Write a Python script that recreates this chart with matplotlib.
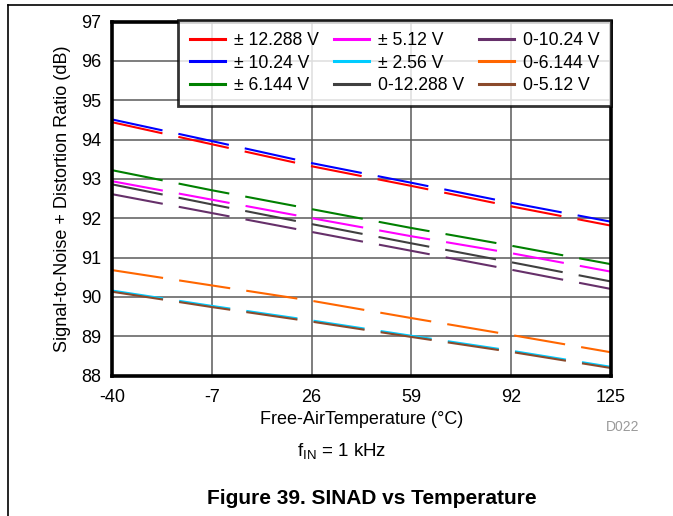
import matplotlib
matplotlib.use("Agg")
import matplotlib.pyplot as plt
from matplotlib.lines import Line2D

plt.rcParams['font.family'] = ['Liberation Sans', 'DejaVu Sans']
plt.rcParams['axes.unicode_minus'] = False

# temperatures (degC) where values were read
temps = [-40, -7, 26, 59, 92, 125]

# SINAD (dB) per input range
sinad_pm12288 = [94.44, 93.88, 93.32, 92.82, 92.30, 91.81]
sinad_pm1024 = [94.51, 93.96, 93.40, 92.90, 92.39, 91.91]
sinad_pm6144 = [93.22, 92.71, 92.23, 91.75, 91.30, 90.83]
sinad_pm512 = [92.94, 92.47, 92.00, 91.54, 91.11, 90.64]
sinad_pm256 = [90.16, 89.77, 89.40, 89.01, 88.63, 88.22]
sinad_0_12288 = [92.86, 92.35, 91.85, 91.36, 90.88, 90.39]
sinad_0_1024 = [92.61, 92.13, 91.65, 91.17, 90.69, 90.20]
sinad_0_6144 = [90.68, 90.29, 89.90, 89.46, 89.03, 88.59]
sinad_0_512 = [90.13, 89.74, 89.37, 88.98, 88.60, 88.19]

labels = ['± 12.288 V', '± 10.24 V', '± 6.144 V',
          '± 5.12 V', '± 2.56 V', '0-12.288 V',
          '0-10.24 V', '0-6.144 V', '0-5.12 V']
series = [sinad_pm12288, sinad_pm1024, sinad_pm6144,
          sinad_pm512, sinad_pm256, sinad_0_12288,
          sinad_0_1024, sinad_0_6144, sinad_0_512]
colors = ['#FF0000', '#0000FF', '#008000',
          '#FF00FF', '#00CCFF', '#404040',
          '#66306A', '#FF6600', '#8B4A2B']

W, H = 673, 516
fig = plt.figure(figsize=(W / 100, H / 100), dpi=100)
ax = fig.add_axes([112 / W, 1 - 375.5 / H, (611 - 112) / W, (375.5 - 21.5) / H])

handles = []
for vals, lab, col in zip(series, labels, colors):
    ax.plot(temps, vals, color=col, lw=1.5, linestyle=(0, (24.8, 7.8)),
            zorder=3)
    handles.append(Line2D([0], [0], color=col, lw=2.2))

ax.set_xlim(-40, 125)
ax.set_ylim(88, 97)
ax.set_xticks(temps)
ax.set_yticks(range(88, 98))
ax.grid(True, color='#5a5a5a', lw=1.1)
ax.set_axisbelow(True)
ax.tick_params(length=0, labelsize=13)
ax.tick_params(axis='x', pad=10)
ax.tick_params(axis='y', pad=8)
for sp in ax.spines.values():
    sp.set_linewidth(2.6)
    sp.set_zorder(5)

ax.set_xlabel('Free-AirTemperature (°C)', fontsize=13)
ax.xaxis.set_label_coords(0.5, -0.1)
ax.set_ylabel('Signal-to-Noise + Distortion Ratio (dB)', fontsize=13)
ax.yaxis.set_label_coords(-0.082, 0.5)

leg = ax.legend(handles, labels, ncol=3, loc='upper right',
                bbox_to_anchor=(1.0, 1.003), borderaxespad=0,
                fontsize=12.7, frameon=True, fancybox=False,
                handlelength=2.0, handletextpad=0.5, columnspacing=0.85,
                labelspacing=0.32, borderpad=0.65)
leg.get_frame().set_edgecolor('black')
leg.get_frame().set_linewidth(2.0)
leg.set_zorder(6)

fig.text(639 / W, 1 - 427 / H, 'D022', fontsize=10, color='#9a9a9a',
         ha='right', va='center')
fig.text(342 / W, 1 - 452 / H, r'f$_{\mathregular{IN}}$ = 1 kHz', fontsize=13.5,
         ha='center', va='center')
fig.text(372 / W, 1 - 498 / H, 'Figure 39. SINAD vs Temperature',
         fontsize=15, fontweight='bold', ha='center', va='center')

# page frame
fig.add_artist(Line2D([8 / W, 8 / W], [0, 1 - 5 / H], color='black', lw=1.2,
                      transform=fig.transFigure))
fig.add_artist(Line2D([8 / W, 1], [1 - 5 / H, 1 - 5 / H], color='black', lw=1.2,
                      transform=fig.transFigure))

fig.savefig('out.png', dpi=100)
